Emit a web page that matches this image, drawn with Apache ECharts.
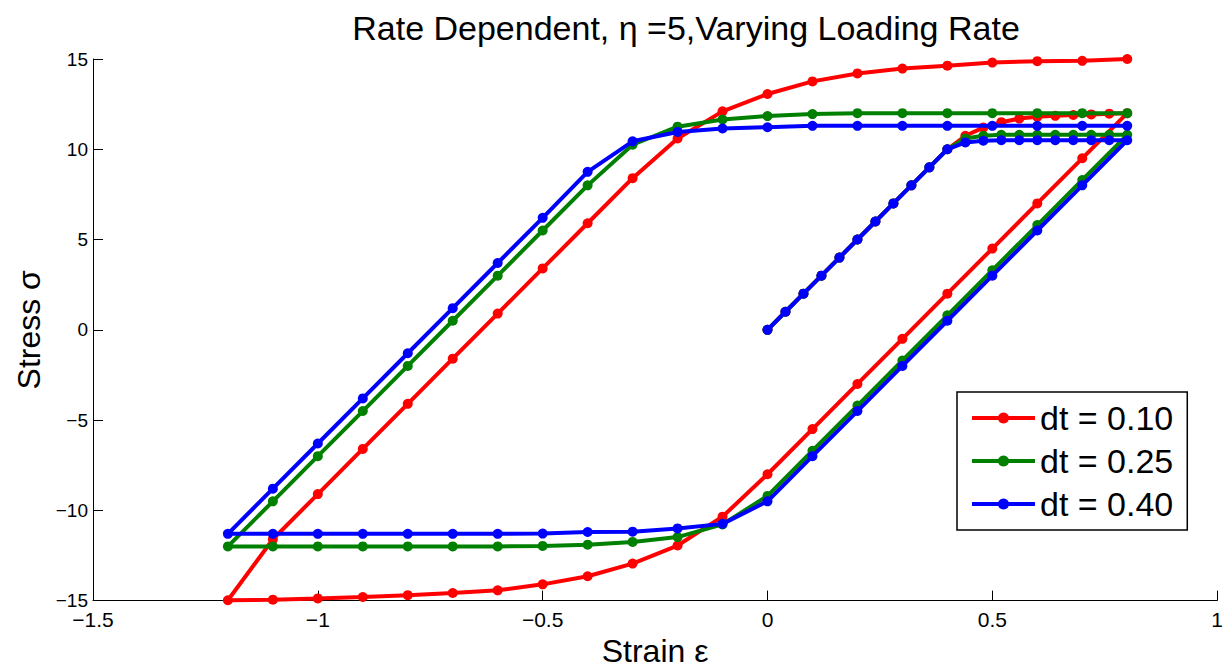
<!DOCTYPE html>
<html>
<head>
<meta charset="utf-8">
<script src="https://cdn.jsdelivr.net/npm/echarts@6/dist/echarts.min.js"></script>
<style>
html,body{margin:0;padding:0;background:#fff;}
#chart{width:1226px;height:672px;}
</style>
</head>
<body>
<div id="chart"></div>
<script>
// Strain path (shared by all three runs): initial loading, unloading, reloading
const strain = [
  0, 0.04, 0.08, 0.12, 0.16, 0.2, 0.24, 0.28, 0.32, 0.36, 0.4,
  0.44, 0.48, 0.52, 0.56, 0.6, 0.64, 0.68, 0.72, 0.76, 0.8,
  0.7, 0.6, 0.5, 0.4, 0.3, 0.2, 0.1, 0, -0.1, -0.2,
  -0.3, -0.4, -0.5, -0.6, -0.7, -0.8, -0.9, -1.0, -1.1, -1.2,
  -1.1, -1.0, -0.9, -0.8, -0.7, -0.6, -0.5, -0.4, -0.3, -0.2,
  -0.1, 0, 0.1, 0.2, 0.3, 0.4, 0.5, 0.6, 0.7, 0.8
];

const stressDt010 = [
  0, 1, 2, 3, 4, 5, 6, 7, 8, 9, 10,
  10.75, 11.2, 11.5, 11.7, 11.8, 11.85, 11.9, 11.93, 11.97, 12.0,
  9.5, 7.0, 4.5, 2.0, -0.5, -3.0, -5.5, -8.0, -10.35, -11.95,
  -12.95, -13.65, -14.1, -14.43, -14.58, -14.7, -14.8, -14.88, -14.95, -14.98,
  -11.6, -9.1, -6.6, -4.1, -1.6, 0.9, 3.4, 5.9, 8.4, 10.6,
  12.1, 13.06, 13.76, 14.2, 14.47, 14.63, 14.8, 14.88, 14.9, 15.0
];

const stressDt025 = [
  0, 1, 2, 3, 4, 5, 6, 7, 8, 9, 10,
  10.6, 10.75, 10.8, 10.8, 10.8, 10.8, 10.8, 10.8, 10.8, 10.8,
  8.3, 5.8, 3.3, 0.8, -1.7, -4.2, -6.7, -9.2, -10.78, -11.48,
  -11.75, -11.9, -11.97, -12.0, -12.0, -12.0, -12.0, -12.0, -12.0, -12.0,
  -9.5, -7.0, -4.5, -2.0, 0.5, 3.0, 5.5, 8.0, 10.25, 11.25,
  11.65, 11.84, 11.95, 12.0, 12.0, 12.0, 12.0, 12.0, 12.0, 12.0
];

const stressDt040 = [
  0, 1, 2, 3, 4, 5, 6, 7, 8, 9, 10,
  10.38, 10.47, 10.5, 10.5, 10.5, 10.5, 10.5, 10.5, 10.5, 10.5,
  8.0, 5.5, 3.0, 0.5, -2.0, -4.5, -7.0, -9.5, -10.75, -11.0,
  -11.18, -11.2, -11.29, -11.3, -11.3, -11.3, -11.3, -11.3, -11.3, -11.3,
  -8.8, -6.3, -3.8, -1.3, 1.2, 3.7, 6.2, 8.75, 10.44, 10.96,
  11.15, 11.22, 11.3, 11.3, 11.3, 11.3, 11.3, 11.3, 11.3, 11.3
];

const seriesNames = ['dt = 0.10', 'dt = 0.25', 'dt = 0.40'];
const seriesColors = ['#ff0000', '#008000', '#0000ff'];
const seriesStress = [stressDt010, stressDt025, stressDt040];

const titleText = 'Rate Dependent, \u03b7 =5,Varying Loading Rate';
const xName = 'Strain \u03b5';
const yName = 'Stress \u03c3';

const FONT = "'Liberation Sans', Arial, Helvetica, sans-serif";

const chart = echarts.init(document.getElementById('chart'), null, {renderer: 'svg'});

function pairs(xs, ys) {
  return xs.map((x, i) => [x, ys[i]]);
}
function minusFmt(v) {
  return String(v).replace('-', '\u2212');
}

const option = {
  backgroundColor: '#ffffff',
  animation: false,
  title: {
    text: titleText,
    left: 681,
    top: 6,
    textAlign: 'center',
    textStyle: {fontFamily: FONT, fontSize: 34, fontWeight: 'normal', color: '#000'}
  },
  grid: {left: 93, right: 7, top: 59, bottom: 65, containLabel: false},
  legend: {
    orient: 'vertical',
    left: 957,
    top: 392,
    padding: [9, 14, 9, 13],
    itemGap: 9,
    itemWidth: 63,
    itemHeight: 14,
    borderColor: '#000',
    borderWidth: 1.5,
    backgroundColor: '#fff',
    lineStyle: {width: 4},
    textStyle: {fontFamily: FONT, fontSize: 34, color: '#000'},
    data: seriesNames
  },
  xAxis: {
    type: 'value',
    min: -1.5,
    max: 1,
    interval: 0.5,
    name: xName,
    nameLocation: 'middle',
    nameGap: 34,
    nameTextStyle: {fontFamily: FONT, fontSize: 32, color: '#000'},
    axisLine: {show: true, onZero: false, lineStyle: {color: '#000', width: 1}},
    axisTick: {show: true, inside: true, length: 10, lineStyle: {color: '#000'}},
    axisLabel: {fontFamily: FONT, fontSize: 21, lineHeight: 16, color: '#000', margin: 11, formatter: minusFmt},
    splitLine: {show: false}
  },
  yAxis: {
    type: 'value',
    min: -15,
    max: 15,
    interval: 5,
    name: yName,
    nameLocation: 'middle',
    nameGap: 48,
    nameTextStyle: {fontFamily: FONT, fontSize: 32, color: '#000'},
    axisLine: {show: true, onZero: false, lineStyle: {color: '#000', width: 1}},
    axisTick: {show: true, inside: true, length: 10, lineStyle: {color: '#000'}},
    axisLabel: {fontFamily: FONT, fontSize: 19, lineHeight: 14, color: '#000', margin: 5, formatter: minusFmt},
    splitLine: {show: false}
  },
  series: seriesNames.map((name, i) => ({
    name: name,
    type: 'line',
    data: pairs(strain, seriesStress[i]),
    symbol: 'circle',
    symbolSize: 10,
    showAllSymbol: true,
    clip: false,
    color: seriesColors[i],
    lineStyle: {color: seriesColors[i], width: 4},
    itemStyle: {color: seriesColors[i]},
    z: 2 + i
  }))
};

chart.setOption(option);
</script>
</body>
</html>
